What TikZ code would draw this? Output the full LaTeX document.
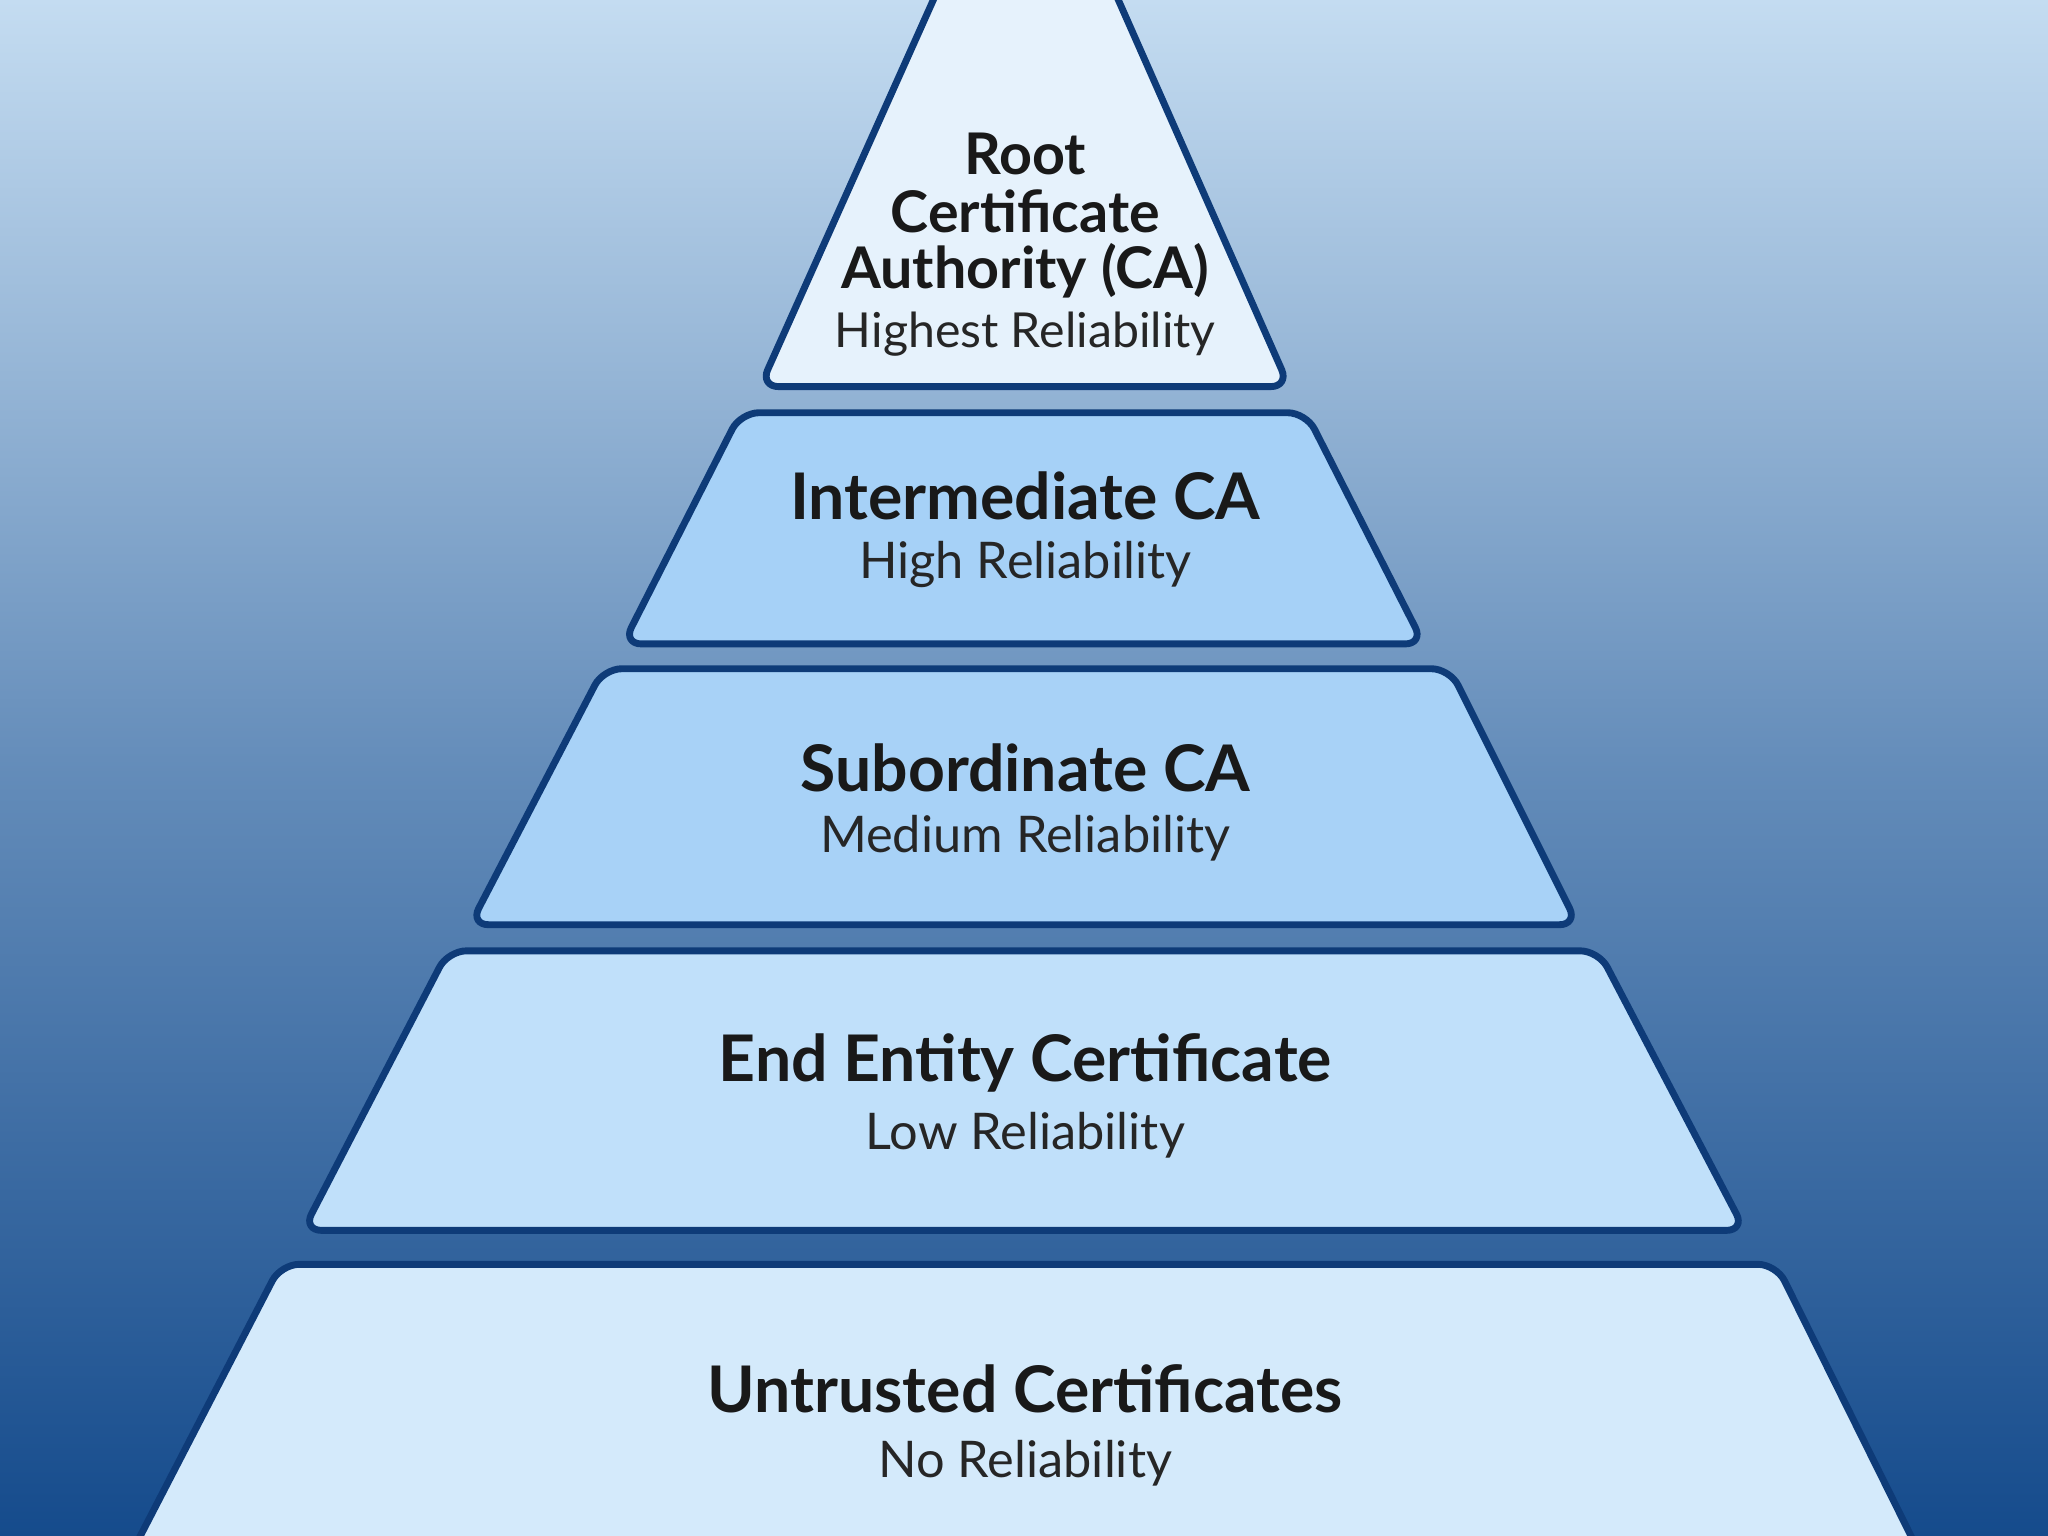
\documentclass[tikz,border=0pt]{standalone}
\usepackage{fontspec}
\setmainfont{Lato}
\begin{document}
\begin{tikzpicture}[x=0.01cm,y=-0.01cm,
  tier/.style={draw=navy,line width=1.5pt,rounded corners=4pt,line join=round},
  ttl/.style={font=\fontsize{14}{15}\selectfont\bfseries,text=black!90,align=center},
  sub/.style={font=\fontsize{11}{12}\selectfont,text=black!85}]
\definecolor{navy}{HTML}{0E3B78}
\definecolor{bgtop}{HTML}{C4DCF1}
\definecolor{bgbot}{HTML}{154B8C}
\definecolor{f1}{HTML}{E6F2FC}
\definecolor{f2}{HTML}{A6D1F7}
\definecolor{f3}{HTML}{A8D2F7}
\definecolor{f4}{HTML}{C0E0FA}
\definecolor{f5}{HTML}{D4EAFB}
\useasboundingbox (0,0) rectangle (1568,1176);
\shade[top color=bgtop,bottom color=bgbot,middle color=bgtop!45!bgbot] (0,0) rectangle (1568,1176);
\begin{scope}
\clip (0,0) rectangle (1568,1176);
\draw[tier,fill=f1] (728,-30) -- (843,-30) -- (987,296) -- (582,296) -- cycle;
\end{scope}
\draw[tier,fill=f2] (567,316) -- (1000,316) -- (1090,493) -- (477,493) -- cycle;
\draw[tier,fill=f3] (462,512) -- (1110,512) -- (1208,708) -- (360,708) -- cycle;
\draw[tier,fill=f4] (343,728) -- (1224,728) -- (1336,942) -- (232,942) -- cycle;
\begin{scope}
\clip (0,0) rectangle (1568,1176);
\draw[tier,fill=f5] (215,968) -- (1360,968) -- (1475,1200) -- (95,1200) -- cycle;
\end{scope}
\node[ttl,font=\fontsize{12.5}{14}\selectfont\bfseries] (r1) at (785,118) {Root};
\node[ttl,font=\fontsize{12.5}{14}\selectfont\bfseries] (r2) at (785,162) {Certificate};
\node[ttl,font=\fontsize{12.5}{14}\selectfont\bfseries] (r3) at (785,207) {Authority (CA)};
\node[sub,font=\fontsize{10.5}{12}\selectfont] (r4) at (785,256) {Highest Reliability};
\node[ttl] (i1) at (785,380) {Intermediate CA};
\node[sub] (i2) at (785,432) {High Reliability};
\node[ttl] (s1) at (785,588) {Subordinate CA};
\node[sub] (s2) at (785,642) {Medium Reliability};
\node[ttl] (e1) at (785,814) {End Entity Certificate};
\node[sub] (e2) at (785,869) {Low Reliability};
\node[ttl] (u1) at (785,1063) {Untrusted Certificates};
\node[sub] (u2) at (785,1120) {No Reliability};
\end{tikzpicture}
\end{document}
